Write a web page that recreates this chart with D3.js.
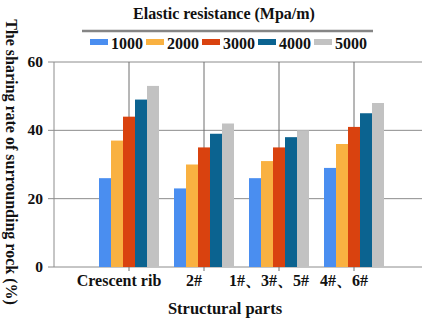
<!DOCTYPE html>
<html><head><meta charset="utf-8">
<script src="https://cdn.jsdelivr.net/npm/d3@7"></script>
<style>body{margin:0;background:#fff}svg{display:block}text{font-family:"Liberation Serif","Times New Roman",serif;font-weight:bold;fill:#111}</style>
</head><body><svg id="c" width="422" height="319"></svg>
<script>
const categories = ["Crescent rib", "2#", "1#、3#、5#", "4#、6#"];
const seriesNames = ["1000", "2000", "3000", "4000", "5000"];
const s1000 = [26, 23, 26, 29];
const s2000 = [37, 30, 31, 36];
const s3000 = [44, 35, 35, 41];
const s4000 = [49, 39, 38, 45];
const s5000 = [53, 42, 40, 48];
const yTicks = [0, 20, 40, 60];
const colors = ["#4a8ef0", "#f9b141", "#d9420f", "#0b6390", "#c2c2c2"];
const series = [s1000, s2000, s3000, s4000, s5000];

(function () {
const svg = d3.select("#c");
const pL = 54, pR = 422, pT = 62, pB = 267;
const y = d3.scaleLinear().domain([0, 60]).range([pB, pT]);
const x = d3.scaleBand().domain(categories).range([91.5, 391.5]);
const xs = d3.scaleBand().domain(seriesNames).range([0, 60]);

// horizontal gridlines
svg.append("g").selectAll("line").data(yTicks).join("line")
  .attr("x1", pL - 6).attr("x2", pR).attr("y1", d => y(d)).attr("y2", d => y(d))
  .attr("stroke", "#8c8c8c").attr("stroke-width", 1);
// vertical lines at categories
svg.append("g").selectAll("line").data(categories).join("line")
  .attr("x1", d => x(d) + x.bandwidth()/2).attr("x2", d => x(d) + x.bandwidth()/2)
  .attr("y1", pT).attr("y2", pB + 4)
  .attr("stroke", "#6e6e6e").attr("stroke-width", 1);
// left axis line
svg.append("line").attr("x1", pL).attr("x2", pL).attr("y1", pT).attr("y2", pB)
  .attr("stroke", "#8c8c8c");

// bars
categories.forEach((c, ci) => {
  series.forEach((s, si) => {
    svg.append("rect")
      .attr("x", x(c) + x.bandwidth()/2 - 30 + xs(seriesNames[si]))
      .attr("width", xs.bandwidth())
      .attr("y", y(s[ci])).attr("height", y(0) - y(s[ci]))
      .attr("fill", colors[si]);
  });
});

// y tick labels
svg.append("g").selectAll("text").data(yTicks).join("text")
  .attr("x", 43).attr("y", d => y(d) + 5).attr("text-anchor", "end")
  .attr("font-size", 15.5).text(d => d);

// x labels
svg.append("g").selectAll("text").data(categories).join("text")
  .attr("x", d => x(d) + x.bandwidth()/2 - 10).attr("y", 286).attr("text-anchor", "middle")
  .attr("font-size", 16).text(d => d);

svg.append("text").attr("x", 225).attr("y", 314).attr("text-anchor", "middle")
  .attr("font-size", 16.5).text("Structural parts");

svg.append("text").attr("transform", "translate(6,162) rotate(90)")
  .attr("text-anchor", "middle").attr("font-size", 16)
  .text("The sharing rate of surrounding rock (%)");

// legend
svg.append("text").attr("x", 224).attr("y", 19).attr("text-anchor", "middle")
  .attr("font-size", 16).text("Elastic resistance (Mpa/m)");
svg.append("line").attr("x1", 82).attr("x2", 373).attr("y1", 31).attr("y2", 31)
  .attr("stroke", "#858585").attr("stroke-width", 2.5);
const lg = svg.append("g").selectAll("g").data(seriesNames).join("g")
  .attr("transform", (d, i) => `translate(${90 + i * 56},0)`);
lg.append("rect").attr("x", 0).attr("y", 39).attr("width", 18).attr("height", 6)
  .attr("fill", (d, i) => colors[i]);
lg.append("text").attr("x", 21).attr("y", 49).attr("font-size", 16).text(d => d);
})();
</script></body></html>
